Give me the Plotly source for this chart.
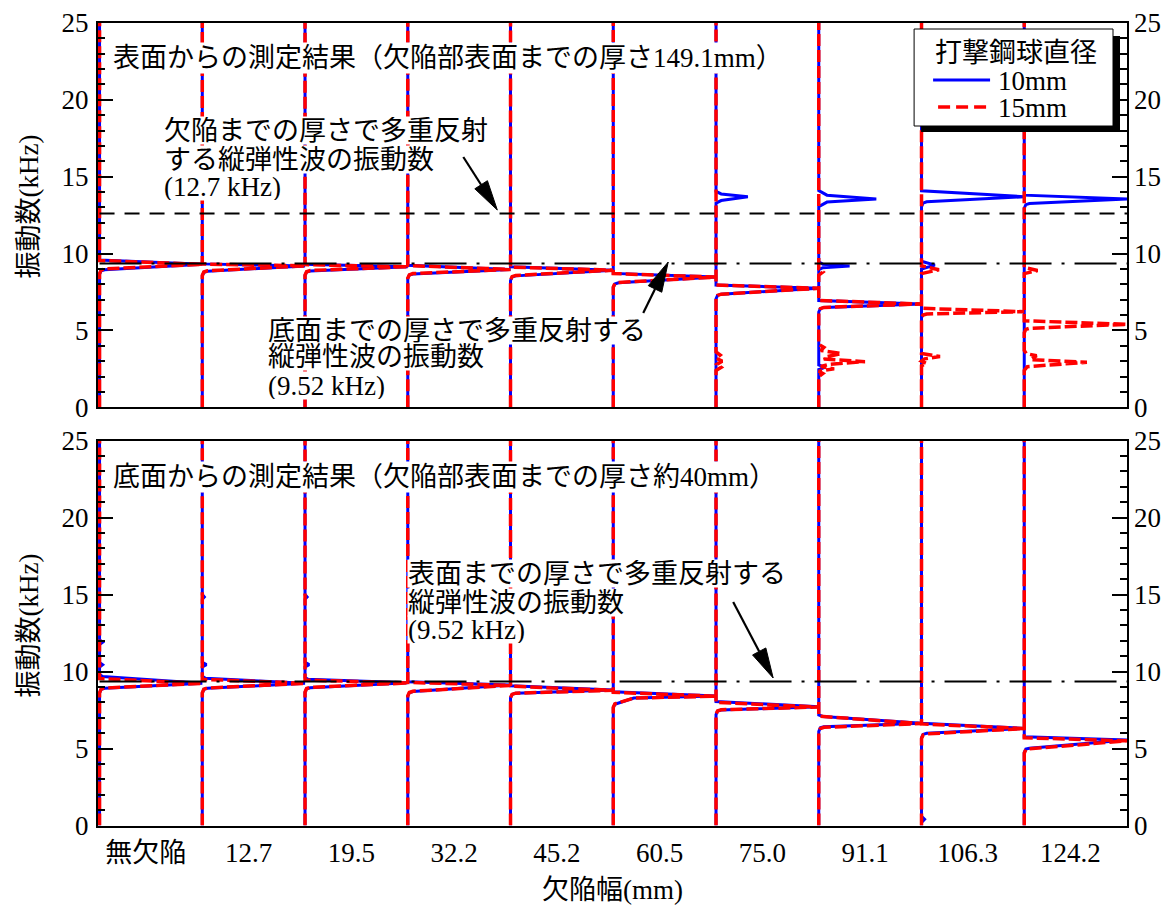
import math
import plotly.graph_objects as go

# ---------------------------------------------------------------- data
categories = ["無欠陥", "12.7", "19.5", "32.2", "45.2", "60.5", "75.0", "91.1", "106.3", "124.2"]
series_names = ["10mm", "15mm"]

# Each group's spectrum: frequency (kHz) and normalised amplitude (group widths)
top_10mm_freq = [
    [0, 8.65, 8.88, 8.95, 9.30, 9.58, 25],
    [0, 8.55, 8.78, 8.85, 9.20, 9.33, 25],
    [0, 8.58, 8.80, 8.87, 9.14, 9.30, 25],
    [0, 8.38, 8.60, 8.67, 8.97, 9.24, 25],
    [0, 8.25, 8.47, 8.55, 8.92, 9.14, 25],
    [0, 7.80, 8.02, 8.10, 8.47, 8.71, 25],
    [0, 7.05, 7.28, 7.36, 7.74, 7.95, 13.28, 13.45, 13.69, 13.88, 14.05, 25],
    [0, 2.45, 2.6, 2.75, 6.2, 6.42, 6.5, 6.72, 6.95, 8.95, 9.08, 9.19, 9.3, 9.47,
     13.05, 13.35, 13.55, 13.8, 14.1, 25],
    [0, 9.0, 9.25, 9.5, 13.05, 13.28, 13.37, 13.70, 14.08, 25],
    [0, 12.95, 13.18, 13.26, 13.55, 13.80, 25],
]
top_10mm_amp = [
    [0, 0, 0.015, 0.05, 1.0, 0, 0],
    [0, 0, 0.015, 0.05, 1.0, 0, 0],
    [0, 0, 0.015, 0.05, 1.0, 0, 0],
    [0, 0, 0.015, 0.05, 1.0, 0, 0],
    [0, 0, 0.015, 0.05, 1.0, 0, 0],
    [0, 0, 0.015, 0.05, 1.0, 0, 0],
    [0, 0, 0.015, 0.05, 1.0, 0, 0, 0.05, 0.31, 0.05, 0, 0],
    [0, 0, 0.06, 0, 0, 0.015, 0.05, 1.0, 0, 0, 0.04, 0.30, 0.04, 0,
     0, 0.08, 0.56, 0.08, 0, 0],
    [0, 0, 0.13, 0, 0, 0.015, 0.05, 1.0, 0, 0],
    [0, 0, 0.015, 0.05, 1.0, 0, 0],
]
top_15mm_freq = [
    [0, 8.70, 8.92, 9.00, 9.30, 9.55, 25],
    [0, 8.58, 8.80, 8.88, 9.20, 9.32, 25],
    [0, 8.60, 8.82, 8.90, 9.14, 9.28, 25],
    [0, 8.40, 8.62, 8.70, 8.97, 9.22, 25],
    [0, 8.27, 8.50, 8.58, 8.92, 9.12, 25],
    [0, 7.82, 8.05, 8.12, 8.47, 8.70, 25],
    [0, 2.4, 2.6, 2.8, 3.0, 3.2, 3.4, 3.6, 7.05, 7.28, 7.36, 7.74, 7.95, 25],
    [0, 2.0, 2.2, 2.35, 2.5, 2.65, 2.8, 2.97, 3.15, 3.3, 3.5, 3.7, 3.9, 4.1,
     6.2, 6.42, 6.5, 6.72, 6.95, 8.6, 8.8, 9.0, 25],
    [0, 2.7, 2.85, 3.0, 3.15, 3.3, 3.5, 5.8, 6.0, 6.07, 6.22, 6.44, 8.7, 8.95, 9.2, 25],
    [0, 2.4, 2.64, 2.93, 3.1, 3.35, 3.5, 3.7, 4.85, 5.07, 5.14, 5.40, 5.63, 8.7, 8.9, 9.1, 25],
]
top_15mm_amp = [
    [0, 0, 0.015, 0.05, 1.0, 0, 0],
    [0, 0, 0.015, 0.05, 1.0, 0, 0],
    [0, 0, 0.015, 0.05, 1.0, 0, 0],
    [0, 0, 0.015, 0.05, 1.0, 0, 0],
    [0, 0, 0.015, 0.05, 1.0, 0, 0],
    [0, 0, 0.015, 0.05, 1.0, 0, 0],
    [0, 0, 0.05, 0.01, 0.06, 0, 0.04, 0, 0, 0.015, 0.05, 1.0, 0, 0],
    [0, 0, 0.04, 0, 0.15, 0.02, 0.1, 0.45, 0.05, 0.08, 0.22, 0.02, 0.05, 0,
     0, 0.015, 0.05, 1.0, 0, 0, 0.04, 0, 0],
    [0, 0, 0.05, 0, 0.03, 0.18, 0, 0, 0.015, 0.05, 1.0, 0, 0, 0.17, 0, 0],
    [0, 0, 0.03, 0.61, 0.06, 0.12, 0.02, 0, 0, 0.015, 0.05, 1.0, 0, 0, 0.13, 0, 0],
]
bot_10mm_freq = [
    [0, 8.6, 8.84, 8.91, 9.24, 9.68, 9.8, 10.3, 10.45, 10.6, 11.75, 11.9, 12.05, 25],
    [0, 8.6, 8.84, 8.91, 9.24, 9.56, 9.7, 10.3, 10.45, 10.6, 14.7, 14.85, 15.0, 25],
    [0, 8.65, 8.88, 8.95, 9.28, 9.5, 9.62, 10.3, 10.45, 10.6, 14.7, 14.85, 15.0, 25],
    [0, 8.4, 8.62, 8.7, 9.13, 9.34, 25],
    [0, 8.3, 8.52, 8.6, 8.8, 9.08, 25],
    [0, 7.65, 7.88, 7.96, 8.28, 8.41, 8.69, 25],
    [0, 7.2, 7.43, 7.5, 7.72, 8.05, 25],
    [0, 6.1, 6.35, 6.42, 6.64, 7.08, 7.18, 25],
    [0, 0.2, 0.4, 0.6, 5.7, 5.92, 5.99, 6.31, 6.64, 25],
    [0, 4.75, 4.97, 5.02, 5.55, 5.77, 25],
]
bot_10mm_amp = [
    [0, 0, 0.015, 0.05, 1.0, 0.03, 0, 0, 0.03, 0, 0, 0.03, 0, 0],
    [0, 0, 0.015, 0.05, 1.0, 0.03, 0, 0, 0.04, 0, 0, 0.02, 0, 0],
    [0, 0, 0.015, 0.05, 1.0, 0.03, 0, 0, 0.04, 0, 0, 0.02, 0, 0],
    [0, 0, 0.015, 0.05, 1.0, 0, 0],
    [0, 0, 0.015, 0.05, 1.0, 0, 0],
    [0, 0, 0.015, 0.05, 0.2, 1.0, 0, 0],
    [0, 0, 0.015, 0.05, 1.0, 0, 0],
    [0, 0, 0.015, 0.05, 1.0, 0.04, 0, 0],
    [0, 0, 0.03, 0, 0, 0.015, 0.05, 1.0, 0, 0],
    [0, 0, 0.015, 0.05, 1.0, 0, 0],
]
bot_15mm_freq = [
    [0, 8.62, 8.86, 8.93, 9.24, 9.55, 25],
    [0, 8.62, 8.86, 8.93, 9.24, 9.50, 25],
    [0, 8.66, 8.90, 8.97, 9.26, 9.45, 25],
    [0, 8.42, 8.64, 8.72, 9.10, 9.30, 25],
    [0, 8.30, 8.52, 8.60, 8.78, 9.05, 25],
    [0, 7.68, 7.90, 7.98, 8.28, 8.40, 8.65, 25],
    [0, 7.22, 7.45, 7.52, 7.70, 8.00, 25],
    [0, 6.05, 6.30, 6.38, 6.62, 7.10, 25],
    [0, 5.65, 5.88, 5.95, 6.30, 6.60, 25],
    [0, 4.70, 4.92, 4.98, 5.50, 5.70, 25],
]
bot_15mm_amp = [
    [0, 0, 0.015, 0.05, 1.0, 0, 0],
    [0, 0, 0.015, 0.05, 1.0, 0, 0],
    [0, 0, 0.015, 0.05, 1.0, 0, 0],
    [0, 0, 0.015, 0.05, 1.0, 0, 0],
    [0, 0, 0.015, 0.05, 1.0, 0, 0],
    [0, 0, 0.015, 0.05, 0.2, 1.0, 0, 0],
    [0, 0, 0.015, 0.05, 1.0, 0, 0],
    [0, 0, 0.015, 0.05, 1.0, 0, 0],
    [0, 0, 0.015, 0.05, 1.0, 0, 0],
    [0, 0, 0.015, 0.05, 1.0, 0, 0],
]

defect_line_khz = 12.6    # 欠陥までの厚さ (labelled 12.7 kHz)
bottom_line_khz = 9.35    # 底面/表面までの厚さ (labelled 9.52 kHz)

# ---------------------------------------------------------------- style / geometry
FONT = "Liberation Serif, Noto Sans CJK JP"
FS = 27
BLUE = "rgb(0,0,255)"
RED = "rgb(255,0,0)"
W, H = 1168, 910
ML, MR = 97.5, 41
PW = W - ML - MR
TOP_ROWS = (23.0, 407.3)
BOT_ROWS = (440.7, 825.5)
XR = [-0.015, 10]


def px_x(px):
    return (px - ML) / PW


def px_y(py):
    return 1 - py / H


def spectrum_xy(freqs, amps):
    xs, ys = [], []
    for i, (fl, al) in enumerate(zip(freqs, amps)):
        xs += [i + a for a in al] + [None]
        ys += list(fl) + [None]
    return xs, ys


fig = go.Figure()

panels = [("x", "y", top_10mm_freq, top_10mm_amp, top_15mm_freq, top_15mm_amp),
          ("x2", "y2", bot_10mm_freq, bot_10mm_amp, bot_15mm_freq, bot_15mm_amp)]
for k, (xa, ya, f10, a10, f15, a15) in enumerate(panels):
    x, y = spectrum_xy(f10, a10)
    fig.add_trace(go.Scatter(x=x, y=y, mode="lines", name=series_names[0], xaxis=xa, yaxis=ya,
                             line=dict(color=BLUE, width=3), showlegend=False, hoverinfo="skip"))
    x, y = spectrum_xy(f15, a15)
    fig.add_trace(go.Scatter(x=x, y=y, mode="lines", name=series_names[1], xaxis=xa, yaxis=ya,
                             line=dict(color=RED, width=3.5, dash="12px,4px"), showlegend=False,
                             hoverinfo="skip"))

# reference lines
fig.add_trace(go.Scatter(x=[0, 10], y=[defect_line_khz] * 2, mode="lines", xaxis="x", yaxis="y",
                         line=dict(color="black", width=2, dash="15px,10px"), showlegend=False,
                         hoverinfo="skip"))
for xa, ya in [("x", "y"), ("x2", "y2")]:
    fig.add_trace(go.Scatter(x=[0, 10], y=[bottom_line_khz] * 2, mode="lines", xaxis=xa, yaxis=ya,
                             line=dict(color="black", width=2, dash="42px,10px,3px,10px"),
                             showlegend=False, hoverinfo="skip"))
# dummies for right-hand label axes
for xa, ya in [("x", "y3"), ("x2", "y4")]:
    fig.add_trace(go.Scatter(x=[None], y=[None], xaxis=xa, yaxis=ya, showlegend=False,
                             hoverinfo="skip"))

yax = dict(range=[0, 25], dtick=5, tick0=0, ticks="inside", ticklen=15, tickwidth=1.5,
           tickcolor="black", showline=True, linewidth=2, linecolor="black", mirror="ticks",
           showgrid=False, zeroline=False, automargin=False,
           minor=dict(dtick=1, tick0=0, ticks="inside", ticklen=7, tickwidth=1.5,
                      tickcolor="black", showgrid=False),
           tickfont=dict(family=FONT, size=FS, color="black"), ticklabelstandoff=2)
yright = dict(range=[0, 25], dtick=5, tick0=0, ticks="", showline=False, showgrid=False,
              zeroline=False, side="right", automargin=False,
              tickfont=dict(family=FONT, size=FS, color="black"), ticklabelstandoff=6)
xax = dict(range=XR, showline=True, linewidth=2, linecolor="black", mirror=True, ticks="",
           showgrid=False, zeroline=False, automargin=False)
top_dom = [px_y(TOP_ROWS[1]), px_y(TOP_ROWS[0])]
bot_dom = [px_y(BOT_ROWS[1]), px_y(BOT_ROWS[0])]

fig.update_layout(
    width=W, height=H, margin=dict(l=ML, r=MR, t=0, b=0, autoexpand=False),
    paper_bgcolor="white", plot_bgcolor="white", showlegend=False,
    font=dict(family=FONT, size=FS, color="black"),
    xaxis=dict(xax, anchor="y", domain=[0, 1], showticklabels=False),
    yaxis=dict(yax, anchor="x", domain=top_dom),
    yaxis3=dict(yright, overlaying="y", anchor="x"),
    xaxis2=dict(xax, anchor="y2", domain=[0, 1], showticklabels=True,
                tickvals=[i + 0.45 for i in range(len(categories))], ticktext=categories,
                tickfont=dict(family=FONT, size=FS, color="black"), ticklabelstandoff=2),
    yaxis2=dict(yax, anchor="x2", domain=bot_dom),
    yaxis4=dict(yright, overlaying="y2", anchor="x2"),
)

ann = []
shapes = []


def text_at(txt, px, py, anchor="left", bg=True, angle=0, size=FS, box_h=None):
    d = dict(text=txt, x=px_x(px), y=px_y(py), xref="paper", yref="paper", xanchor=anchor,
             yanchor="middle", showarrow=False, borderpad=0, textangle=angle,
             font=dict(family=FONT, size=size, color="black"))
    if bg:
        d["bgcolor"] = "white"
    if box_h:
        d["height"] = box_h
        d["valign"] = "middle"
    ann.append(d)


# panel texts
text_at("表面からの測定結果（欠陥部表面までの厚さ149.1mm）", 112, 58)
text_at("欠陥までの厚さで多重反射", 163, 131, box_h=27)
text_at("する縦弾性波の振動数", 163, 159, box_h=27)
text_at("(12.7 kHz)", 163, 187, box_h=27)
text_at("底面までの厚さで多重反射する", 267, 330, box_h=27)
text_at("縦弾性波の振動数", 267, 357, box_h=27)
text_at("(9.52 kHz)", 267, 385, box_h=27)
text_at("底面からの測定結果（欠陥部表面までの厚さ約40mm）", 112, 477)
text_at("表面までの厚さで多重反射する", 407, 573, box_h=27)
text_at("縦弾性波の振動数", 407, 602, box_h=27)
text_at("(9.52 kHz)", 407, 629, box_h=27)

# axis titles
text_at("振動数(kHz)", 28, 207, anchor="center", bg=False, angle=-90)
text_at("振動数(kHz)", 28, 626, anchor="center", bg=False, angle=-90)
text_at("欠陥幅(mm)", 612, 890, anchor="center", bg=False)


# arrows (pixel geometry of annotation arrows)
def arrow(tail, tip, head_len=30, half_w=7.5):
    tx, ty = tail
    hx, hy = tip
    dx, dy = hx - tx, hy - ty
    L = math.hypot(dx, dy)
    ux, uy = dx / L, dy / L
    bx, by = hx - ux * head_len, hy - uy * head_len
    p1 = (bx - uy * half_w, by + ux * half_w)
    p2 = (bx + uy * half_w, by - ux * half_w)
    shapes.append(dict(type="line", xref="paper", yref="paper", x0=px_x(tx), y0=px_y(ty),
                       x1=px_x(bx), y1=px_y(by), line=dict(color="black", width=2.2),
                       layer="above"))
    path = "M{},{} L{},{} L{},{} Z".format(px_x(hx), px_y(hy), px_x(p1[0]), px_y(p1[1]),
                                         px_x(p2[0]), px_y(p2[1]))
    shapes.append(dict(type="path", xref="paper", yref="paper", path=path, fillcolor="black",
                       line=dict(color="black", width=1), layer="above"))


arrow((463, 157), (497, 210))
arrow((643, 313), (668, 262))
arrow((733, 602), (773, 678))

# legend (framed box with drop shadow)
shapes.append(dict(type="rect", xref="paper", yref="paper", x0=px_x(921), x1=px_x(1120),
                   y0=px_y(132), y1=px_y(36), fillcolor="black", line=dict(width=0),
                   layer="above"))
shapes.append(dict(type="rect", xref="paper", yref="paper", x0=px_x(914), x1=px_x(1113),
                   y0=px_y(126), y1=px_y(29), fillcolor="white",
                   line=dict(color="black", width=1), layer="above"))
shapes.append(dict(type="line", xref="paper", yref="paper", x0=px_x(933), x1=px_x(990),
                   y0=px_y(80), y1=px_y(80), line=dict(color=BLUE, width=3), layer="above"))
shapes.append(dict(type="line", xref="paper", yref="paper", x0=px_x(938), x1=px_x(990),
                   y0=px_y(107), y1=px_y(107), line=dict(color=RED, width=3.5, dash="12px,6px"),
                   layer="above"))
fig.update_layout(shapes=shapes)
ann.append(dict(text="打撃鋼球直径", x=px_x(1016), y=px_y(53), xref="paper", yref="paper",
                xanchor="center", yanchor="middle", showarrow=False,
                font=dict(family=FONT, size=FS, color="black")))
ann.append(dict(text=series_names[0], x=px_x(996), y=px_y(81), xref="paper", yref="paper",
                xanchor="left", yanchor="middle", showarrow=False,
                font=dict(family=FONT, size=FS, color="black")))
ann.append(dict(text=series_names[1], x=px_x(996), y=px_y(108), xref="paper", yref="paper",
                xanchor="left", yanchor="middle", showarrow=False,
                font=dict(family=FONT, size=FS, color="black")))
fig.update_layout(annotations=ann)

fig.write_html("out.html", config={"displayModeBar": False},
               post_script="document.body.style.margin='0px';")
